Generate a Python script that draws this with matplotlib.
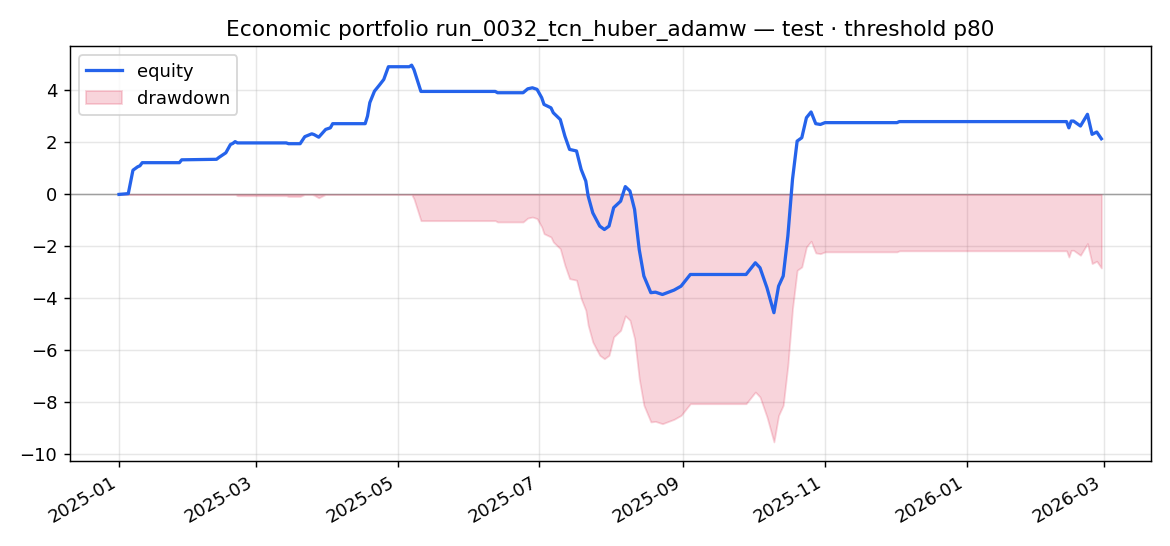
import matplotlib
matplotlib.use("Agg")
import matplotlib.pyplot as plt
import matplotlib.dates as mdates
import numpy as np
import pandas as pd

dates = [
    "2025-01-01", "2025-01-05", "2025-01-07", "2025-01-09", "2025-01-10", "2025-01-11",
    "2025-01-27", "2025-01-28", "2025-02-12", "2025-02-13", "2025-02-16", "2025-02-18",
    "2025-02-19", "2025-02-20", "2025-02-21", "2025-03-14", "2025-03-15", "2025-03-20",
    "2025-03-22", "2025-03-25", "2025-03-26", "2025-03-28", "2025-03-31", "2025-04-02",
    "2025-04-03", "2025-04-17", "2025-04-18", "2025-04-19", "2025-04-21", "2025-04-23",
    "2025-04-25", "2025-04-27", "2025-05-06", "2025-05-07", "2025-05-08", "2025-05-11",
    "2025-06-12", "2025-06-13", "2025-06-24", "2025-06-26", "2025-06-28", "2025-06-30",
    "2025-07-02", "2025-07-03", "2025-07-06", "2025-07-07", "2025-07-10", "2025-07-12",
    "2025-07-14", "2025-07-17", "2025-07-19", "2025-07-21", "2025-07-22", "2025-07-24",
    "2025-07-27", "2025-07-29", "2025-07-31", "2025-08-02", "2025-08-05", "2025-08-07",
    "2025-08-09", "2025-08-11", "2025-08-13", "2025-08-15", "2025-08-18", "2025-08-20",
    "2025-08-23", "2025-08-28", "2025-08-31", "2025-09-04", "2025-09-28", "2025-10-02",
    "2025-10-04", "2025-10-07", "2025-10-10", "2025-10-12", "2025-10-14", "2025-10-16",
    "2025-10-18", "2025-10-20", "2025-10-22", "2025-10-24", "2025-10-26", "2025-10-28",
    "2025-10-30", "2025-11-01", "2025-12-02", "2025-12-03", "2026-02-13", "2026-02-14",
    "2026-02-15", "2026-02-16", "2026-02-19", "2026-02-22", "2026-02-24", "2026-02-26",
    "2026-02-28",
]
equity = [
    0.00, 0.03, 0.93, 1.06, 1.10, 1.22,
    1.22, 1.33, 1.35, 1.42, 1.60, 1.92,
    1.96, 2.03, 1.98, 1.98, 1.95, 1.95,
    2.22, 2.33, 2.30, 2.20, 2.50, 2.56,
    2.72, 2.72, 3.01, 3.53, 3.97, 4.19,
    4.42, 4.91, 4.91, 4.97, 4.80, 3.96,
    3.96, 3.91, 3.91, 4.06, 4.10, 4.04,
    3.72, 3.46, 3.33, 3.14, 2.88, 2.24,
    1.73, 1.67, 0.96, 0.51, -0.06, -0.71,
    -1.22, -1.35, -1.22, -0.51, -0.26, 0.30,
    0.13, -0.58, -2.12, -3.14, -3.78, -3.76,
    -3.85, -3.68, -3.53, -3.08, -3.08, -2.63,
    -2.82, -3.59, -4.55, -3.53, -3.14, -1.60,
    0.58, 2.05, 2.18, 2.95, 3.17, 2.72,
    2.69, 2.76, 2.76, 2.80, 2.80, 2.56,
    2.82, 2.82, 2.63, 3.08, 2.31, 2.40,
    2.14,
]

title = "Economic portfolio run_0032_tcn_huber_adamw \u2014 test \u00b7 threshold p80"

t = pd.to_datetime(dates)
eq = np.array(equity)
drawdown = eq - np.maximum.accumulate(eq)

fig, ax = plt.subplots(figsize=(9, 4.2), dpi=130)
ax.plot(t, eq, color="#2563eb", lw=1.8, label="equity", zorder=3)
ax.fill_between(t, drawdown, 0, color="crimson", alpha=0.18, label="drawdown", zorder=2)
ax.axhline(0, color="gray", lw=0.8, alpha=0.8, zorder=1)
ax.set_title(title)
ax.grid(True, alpha=0.3)
ax.legend(loc="upper left")
ax.xaxis.set_major_locator(mdates.MonthLocator(bymonth=[1, 3, 5, 7, 9, 11]))
ax.xaxis.set_major_formatter(mdates.DateFormatter("%Y-%m"))
fig.autofmt_xdate()
fig.tight_layout()
fig.savefig("out.png", dpi=130)
